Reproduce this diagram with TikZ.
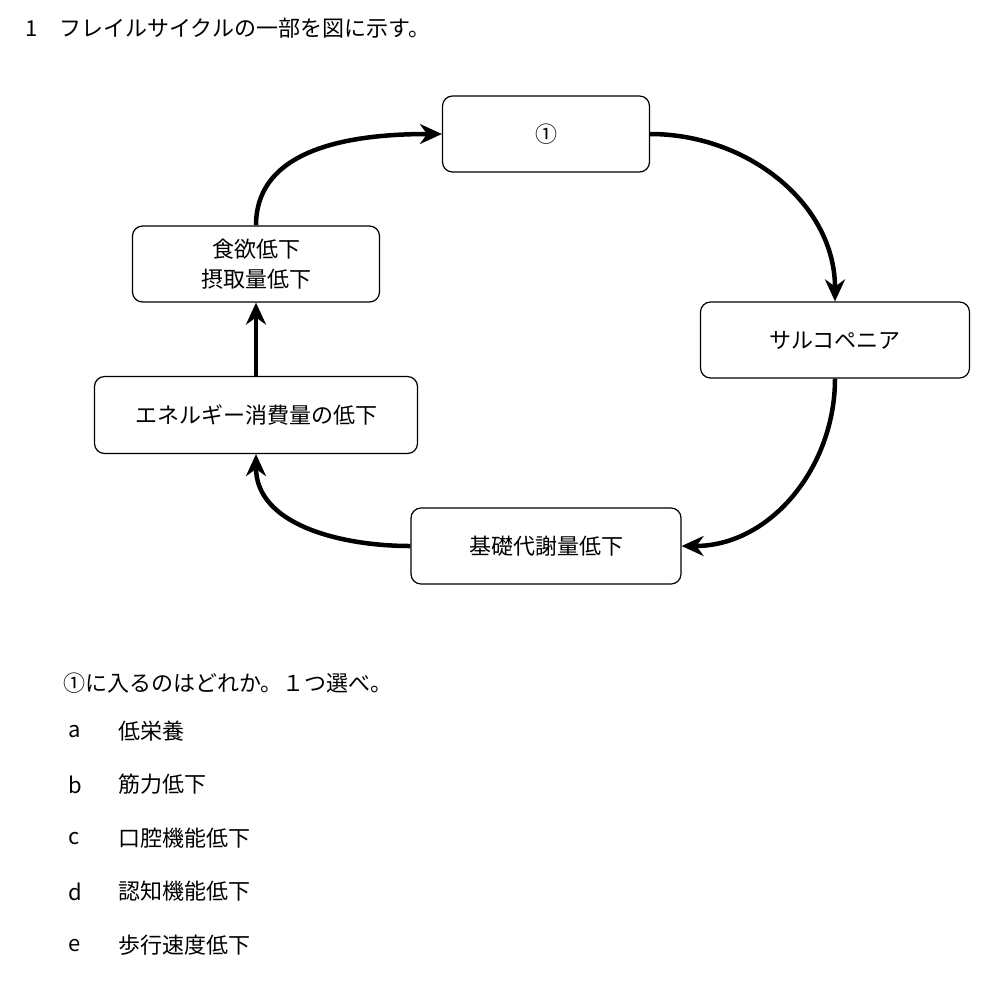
\documentclass[tikz,border=0pt]{standalone}
\usepackage{fontspec}
\setmainfont{Noto Sans CJK JP}
\usetikzlibrary{arrows.meta}
\tikzset{
  box/.style={draw, line width=1.2pt, rounded corners=10pt, align=center, inner sep=0pt},
  flow/.style={line width=4.5pt, -{Stealth[length=22pt,width=20pt]}},
  txt/.style={anchor=west, inner sep=0pt}
}
\begin{document}
\fontsize{22}{30}\selectfont
\begin{tikzpicture}[x=1pt,y=-1pt]
\useasboundingbox (0,0) rectangle (1000,986);
\node[txt] (title) at (25,28) {1　フレイルサイクルの一部を図に示す。};
% boxes
\node[box, minimum width=207pt, minimum height=76pt] (one) at (546,134) {①};
\node[box, minimum width=247pt, minimum height=76pt] (appetite) at (256,264) {食欲低下\\摂取量低下};
\node[box, minimum width=269pt, minimum height=76pt] (sarco) at (835,340) {サルコペニア};
\node[box, minimum width=323pt, minimum height=77pt] (energy) at (256,415) {エネルギー消費量の低下};
\node[box, minimum width=270pt, minimum height=76pt] (basal) at (546,546) {基礎代謝量低下};
% cycle
\draw[flow] (appetite.north) to[out=90,in=180] (one.west);
\draw[flow] (one.east) to[out=0,in=90] (sarco.north);
\draw[flow] (sarco.south) to[out=-90,in=0] (basal.east);
\draw[flow] (basal.west) to[out=180,in=-90] (energy.south);
\draw[flow] (energy.north) -- (appetite.south);
% question
\node[txt] (question) at (63,683) {①に入るのはどれか。１つ選べ。};
\foreach \k/\t [count=\i] in {a/低栄養, b/筋力低下, c/口腔機能低下, d/認知機能低下, e/歩行速度低下}{
  \node[txt] (key\i) at (68,{731+53.5*(\i-1)}) {\k};
  \node[txt] (ans\i) at (118,{731+53.5*(\i-1)}) {\t};
}
\end{tikzpicture}
\end{document}
